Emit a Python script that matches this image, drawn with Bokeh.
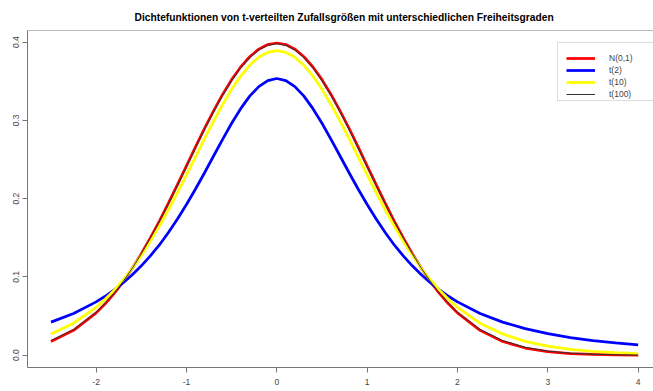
from bokeh.plotting import figure
from bokeh.models import (Range1d, FixedTicker, PrintfTickFormatter, Legend, LegendItem,
                          Span, BoxAnnotation)
from bokeh.embed import file_html
from bokeh.resources import INLINE

# ---- data ----
x_vals = [-2.5, -2.25, -2.0, -1.9, -1.8, -1.7, -1.6, -1.5, -1.4, -1.3, -1.2, -1.1, -1.0,
          -0.9, -0.8, -0.7, -0.6, -0.5, -0.4, -0.3, -0.2, -0.1, 0.0, 0.1, 0.2, 0.3, 0.4,
          0.5, 0.6, 0.7, 0.8, 0.9, 1.0, 1.1, 1.2, 1.3, 1.4, 1.5, 1.6, 1.7, 1.8, 1.9, 2.0,
          2.25, 2.5, 2.75, 3.0, 3.25, 3.5, 3.75, 4.0]

norm_vals = [0.01753, 0.03174, 0.05399, 0.06562, 0.07895, 0.09405, 0.11092, 0.12952, 0.14973,
             0.17137, 0.19419, 0.21785, 0.24197, 0.26609, 0.28969, 0.31225, 0.33322, 0.35207,
             0.36827, 0.38139, 0.39104, 0.39695, 0.39894, 0.39695, 0.39104, 0.38139, 0.36827,
             0.35207, 0.33322, 0.31225, 0.28969, 0.26609, 0.24197, 0.21785, 0.19419, 0.17137,
             0.14973, 0.12952, 0.11092, 0.09405, 0.07895, 0.06562, 0.05399, 0.03174, 0.01753,
             0.00909, 0.00443, 0.00203, 0.00087, 0.00035, 0.00013]

t2_vals = [0.04220, 0.05328, 0.06804, 0.07526, 0.08337, 0.09248, 0.10270, 0.11413, 0.12690,
           0.14077, 0.15673, 0.17388, 0.19245, 0.21230, 0.23313, 0.25451, 0.27582, 0.29630,
           0.31501, 0.33096, 0.34321, 0.35092, 0.35355, 0.35092, 0.34321, 0.33096, 0.31501,
           0.29630, 0.27582, 0.25451, 0.23313, 0.21230, 0.19245, 0.17388, 0.15673, 0.14077,
           0.12690, 0.11413, 0.10270, 0.09248, 0.08337, 0.07526, 0.06804, 0.05328, 0.04220,
           0.03382, 0.02741, 0.02246, 0.01859, 0.01553, 0.01309]

t10_vals = [0.02694, 0.04089, 0.06115, 0.07143, 0.08312, 0.09631, 0.11108, 0.12745, 0.14539,
            0.16485, 0.18566, 0.20761, 0.23036, 0.25353, 0.27663, 0.29909, 0.32033, 0.33969,
            0.35658, 0.37040, 0.38066, 0.38697, 0.38911, 0.38697, 0.38066, 0.37040, 0.35658,
            0.33969, 0.32033, 0.29909, 0.27663, 0.25353, 0.23036, 0.20761, 0.18566, 0.16485,
            0.14539, 0.12745, 0.11108, 0.09631, 0.08312, 0.07143, 0.06115, 0.04089, 0.02694,
            0.01757, 0.01140, 0.00738, 0.00478, 0.00311, 0.00203]

t100_vals = [0.01863, 0.03286, 0.05491, 0.06638, 0.07952, 0.09440, 0.11103, 0.12937, 0.14932,
             0.17072, 0.19331, 0.21679, 0.24077, 0.26479, 0.28834, 0.31090, 0.33190, 0.35080,
             0.36708, 0.38027, 0.38999, 0.39594, 0.39795, 0.39594, 0.38999, 0.38027, 0.36708,
             0.35080, 0.33190, 0.31090, 0.28834, 0.26479, 0.24077, 0.21679, 0.19331, 0.17072,
             0.14932, 0.12937, 0.11103, 0.09440, 0.07952, 0.06638, 0.05491, 0.03286, 0.01863,
             0.01002, 0.00513, 0.00250, 0.00116, 0.00052, 0.00022]

x_ticks = [-2, -1, 0, 1, 2, 3, 4]
y_ticks = [0.0, 0.1, 0.2, 0.3, 0.4]
series_labels = ["N(0,1)", "t(2)", "t(10)", "t(100)"]
title_text = "Dichtefunktionen von t-verteilten Zufallsgrößen mit unterschiedlichen Freiheitsgraden"

# ---- layout ----
FONT = "Liberation Sans"
AXC = "#777777"
TXT = "#444444"
X0, X1 = -2.76, 4.170
Y0, Y1 = -0.0158, 0.4149

p = figure(width=653, height=391, output_backend="svg", toolbar_location=None,
           x_range=Range1d(X0, X1), y_range=Range1d(Y0, Y1),
           min_border_left=27, min_border_right=0, min_border_top=30, min_border_bottom=24)
p.background_fill_color = "white"
p.border_fill_color = "white"
p.outline_line_color = None
p.xgrid.visible = False
p.ygrid.visible = False

p.title.text = title_text
p.title.align = "left"
p.title.offset = 107
p.title.vertical_align = "middle"
p.title.standoff = 13
p.title.text_font = FONT
p.title.text_font_style = "bold"
p.title.text_font_size = "10.25px"
p.title.text_color = "black"

for ax in (p.xaxis[0], p.yaxis[0]):
    ax.axis_line_color = AXC
    ax.major_tick_line_color = AXC
    ax.minor_tick_line_color = None
    ax.major_tick_in = 0
    ax.major_tick_out = 5
    ax.major_label_text_font = FONT
    ax.major_label_text_font_size = "8.5px"
    ax.major_label_text_color = TXT

p.xaxis.ticker = FixedTicker(ticks=x_ticks)
p.xaxis.formatter = PrintfTickFormatter(format="%d")
p.xaxis.major_label_standoff = 6
p.yaxis.ticker = FixedTicker(ticks=y_ticks)
p.yaxis.formatter = PrintfTickFormatter(format="%.1f")
p.yaxis.major_label_orientation = "vertical"
p.yaxis.major_label_standoff = 3

# top border of the box
p.add_layout(Span(location=Y1, dimension="width", line_color=AXC, line_width=1))

# ---- curves ----
r_norm = p.line(x_vals, norm_vals, line_color="#FF0000", line_width=2.75)
r_t2 = p.line(x_vals, t2_vals, line_color="#0000FF", line_width=2.75)
r_t10 = p.line(x_vals, t10_vals, line_color="#FFFF00", line_width=2.75)
r_t100 = p.line(x_vals, t100_vals, line_color="#333333", line_width=1)

# ---- legend ----
box = BoxAnnotation(left=3.107, right=6.0, top=0.3996, bottom=0.3254,
                    fill_color="white", fill_alpha=1.0, line_color="#888888", line_width=1)
p.add_layout(box)

legend = Legend(items=[LegendItem(label=series_labels[0], renderers=[r_norm]),
                       LegendItem(label=series_labels[1], renderers=[r_t2]),
                       LegendItem(label=series_labels[2], renderers=[r_t10]),
                       LegendItem(label=series_labels[3], renderers=[r_t100])],
                location=(539, 267), padding=5, spacing=0,
                glyph_width=29, glyph_height=12, label_height=12, label_standoff=14,
                label_text_font=FONT, label_text_font_size="8.5px", label_text_color=TXT,
                border_line_color=None, background_fill_alpha=0.0)
p.add_layout(legend)

open("out.html", "w").write(file_html(p, INLINE))
